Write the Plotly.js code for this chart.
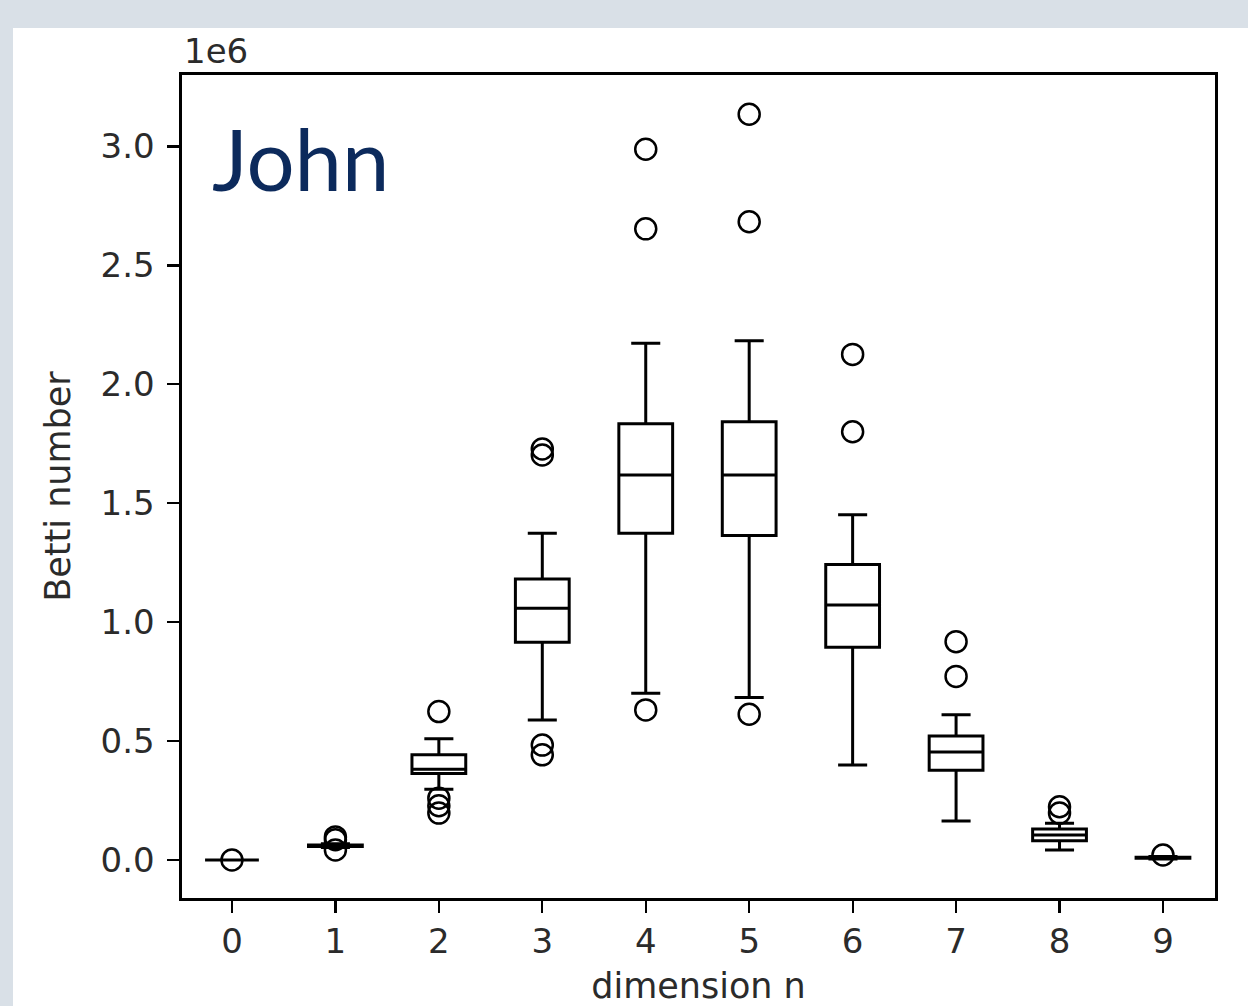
<!DOCTYPE html>
<html>
<head>
<meta charset="utf-8">
<script src="https://cdn.plot.ly/plotly-3.0.1.min.js"></script>
<style>
  html, body { margin: 0; padding: 0; background: #d9e0e7; width: 1248px; height: 1006px; overflow: hidden; }
  #panel { position: absolute; left: 13px; top: 28px; width: 1235px; height: 978px; background: #ffffff; }
</style>
</head>
<body>
<div id="panel"></div>
<script>
// ---- data (values in units) ----
const dims        = [0, 1, 2, 3, 4, 5, 6, 7, 8, 9];
const lowerFence  = [0, 52000, 297000, 589000, 701000, 683000, 399000, 164000, 42000, 4000];
const q1Vals      = [0, 57000, 364000, 915000, 1374000, 1364000, 895000, 377000, 81000, 7000];
const medianVals  = [0, 60000, 381000, 1058000, 1619000, 1619000, 1072000, 454000, 105000, 9000];
const q3Vals      = [0, 63000, 442000, 1182000, 1834000, 1843000, 1242000, 521000, 130000, 11000];
const upperFence  = [0, 68000, 510000, 1374000, 2173000, 2183000, 1452000, 611000, 154000, 14000];

const outlierDim  = [0, 1, 1, 1, 2, 2, 2, 2, 3, 3, 3, 3, 4, 4, 4, 5, 5, 5, 6, 6, 7, 7, 8, 8, 9];
const outlierVal  = [0, 97000, 85000, 42000, 624000, 260000, 228000, 197000,
                     1728000, 1703000, 483000, 442000,
                     2989000, 2654000, 631000,
                     3136000, 2684000, 613000,
                     2126000, 1801000,
                     918000, 772000,
                     224000, 197000,
                     21000];

const yTickVals   = [0, 500000, 1000000, 1500000, 2000000, 2500000, 3000000];
const yTickText   = ["0.0", "0.5", "1.0", "1.5", "2.0", "2.5", "3.0"];
const xTickText   = ["0", "1", "2", "3", "4", "5", "6", "7", "8", "9"];

const FONT = "DejaVu Sans, sans-serif";
const FS = 34;
const TXT = "#2b2b2b";

const boxTrace = {
  type: "box",
  x: dims,
  q1: q1Vals,
  median: medianVals,
  q3: q3Vals,
  lowerfence: lowerFence,
  upperfence: upperFence,
  boxpoints: false,
  width: 0.52,
  whiskerwidth: 0.54,
  fillcolor: "rgba(0,0,0,0)",
  line: { color: "#000000", width: 3 },
  hoverinfo: "skip",
  showlegend: false
};

const outlierTrace = {
  type: "scatter",
  mode: "markers",
  x: outlierDim,
  y: outlierVal,
  marker: { symbol: "circle-open", size: 21, color: "#000000", line: { width: 2.5, color: "#000000" } },
  hoverinfo: "skip",
  showlegend: false
};

const layout = {
  width: 1235,
  height: 978,
  margin: { l: 169, r: 33, t: 47, b: 108 },
  paper_bgcolor: "#ffffff",
  plot_bgcolor: "#ffffff",
  font: { family: FONT, size: FS, color: TXT },
  xaxis: {
    range: [-0.483, 9.503],
    tickmode: "array",
    tickvals: dims,
    ticktext: xTickText,
    ticks: "outside",
    ticklen: 12,
    tickwidth: 2.2,
    tickcolor: "#000000",
    showline: true,
    linecolor: "#000000",
    linewidth: 2.6,
    mirror: true,
    showgrid: false,
    zeroline: false,
    tickfont: { family: FONT, size: FS, color: TXT },
    title: { text: "dimension n", font: { family: FONT, size: 35, color: TXT }, standoff: 20 }
  },
  yaxis: {
    range: [-160000, 3301000],
    tickmode: "array",
    tickvals: yTickVals,
    ticktext: yTickText,
    ticks: "outside",
    ticklen: 12,
    tickwidth: 2.2,
    tickcolor: "#000000",
    showline: true,
    linecolor: "#000000",
    linewidth: 2.6,
    mirror: true,
    showgrid: false,
    zeroline: false,
    ticklabelstandoff: 6,
    tickfont: { family: FONT, size: FS, color: TXT },
    title: { text: "Betti number", font: { family: FONT, size: 35, color: TXT }, standoff: 20 }
  },
  annotations: [
    {
      text: "1e6",
      xref: "paper", yref: "paper",
      x: 0, y: 1,
      xanchor: "left", yanchor: "bottom",
      yshift: 2,
      showarrow: false,
      font: { family: FONT, size: FS, color: TXT }
    },
    {
      text: "John",
      xref: "paper", yref: "paper",
      x: 0.027, y: 0.899,
      xanchor: "left", yanchor: "middle",
      showarrow: false,
      font: { family: "Lato, sans-serif", size: 85, color: "#0c2a5c", weight: 400 }
    }
  ]
};

Plotly.newPlot("panel", [boxTrace, outlierTrace], layout, { displayModeBar: false, staticPlot: true });
</script>
</body>
</html>
